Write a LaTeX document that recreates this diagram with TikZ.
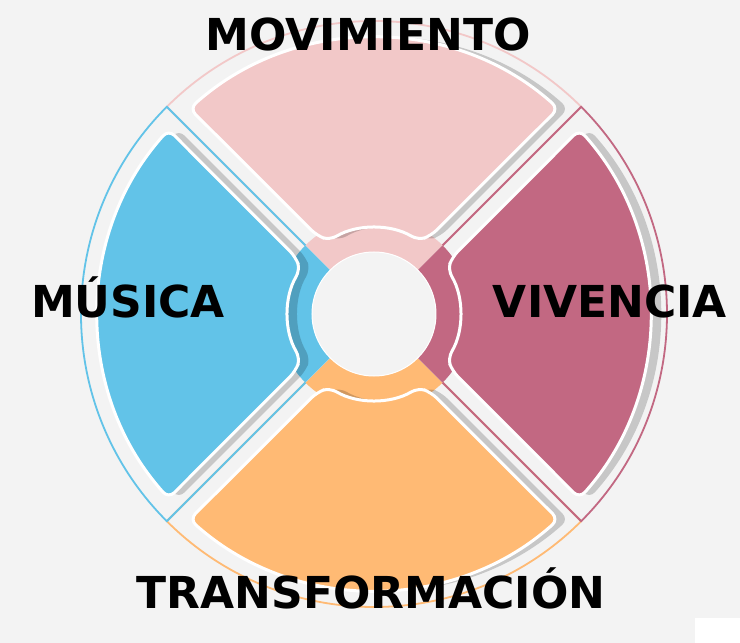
\documentclass[tikz,border=0pt]{standalone}
\usepackage{fontspec}
\setmainfont{DejaVu Sans}
\usepackage{tikz}
\usetikzlibrary{positioning}

\definecolor{bggray}{HTML}{F3F3F3}
\definecolor{movpink}{HTML}{F2C8C8}
\definecolor{vivrose}{HTML}{C26882}
\definecolor{traorange}{HTML}{FFBA74}
\definecolor{musblue}{HTML}{62C3E8}

% wedge of one quarter, #1 = middle angle, #2 = radius
\newcommand{\wedgepath}[2]{(0,0) -- ({#1-45}:#2pt) arc[start angle={#1-45}, end angle={#1+45}, radius=#2pt] -- cycle}
% inner card of one quarter
\newcommand{\cardpath}[1]{({#1+36.1}:97pt) -- ({#1+31}:86pt) arc[start angle={#1+31}, end angle={#1-31}, radius=86pt] -- ({#1-36.1}:97pt) -- ({#1-41.9}:276pt) arc[start angle={#1-41.9}, end angle={#1+41.9}, radius=276pt] -- cycle}

\begin{document}
\begin{tikzpicture}[
				x=1pt, y=1pt,
				label style/.style={
					font=\fontsize{44}{50}\selectfont\bfseries,
					anchor=base,
					inner sep=0pt
				},
				card style/.style={
					draw=white,
					line width=3pt,
					rounded corners=8pt
				}
				]
				
				\useasboundingbox (-374,-329) rectangle (366,314);
				\fill[bggray] (-374,-329) rectangle (366,314);
				\fill[white] (321,-329) rectangle (366,-304);
				
				% quarters
				\foreach \ang/\col in {90/movpink, 270/traorange, 0/vivrose, 180/musblue}{
					\fill[bggray] \wedgepath{\ang}{293};
					\fill[\col] \wedgepath{\ang}{97};
				}
				\foreach \ang/\col in {90/movpink, 270/traorange, 0/vivrose, 180/musblue}{
					\draw[\col, line width=1.8pt] ({\ang-45}:97pt) -- ({\ang-45}:293pt)
						arc[start angle={\ang-45}, end angle={\ang+45}, radius=293pt] -- ({\ang+45}:97pt);
				}
				\foreach \ang/\col in {90/movpink, 270/traorange, 0/vivrose, 180/musblue}{
					\begin{scope}
						\clip \wedgepath{\ang}{291};
						\fill[black, opacity=.18, xshift=10pt, rounded corners=8pt] \cardpath{\ang};
					\end{scope}
					\fill[\col, card style] \cardpath{\ang};
				}
				
				\node[circle, fill=bggray, draw=white, line width=1pt, minimum size=124pt] (hub) at (0,0) {};
				
				\node[label style] (mov) at (-6,263) {MOVIMIENTO};
				\node[label style] (mus) at (-246,-3) {MÚSICA};
				\node[label style] (viv) at (236,-3) {VIVENCIA};
				\node[label style] (tra) at (-3,-294) {TRANSFORMACIÓN};
				
			\end{tikzpicture}
\end{document}
